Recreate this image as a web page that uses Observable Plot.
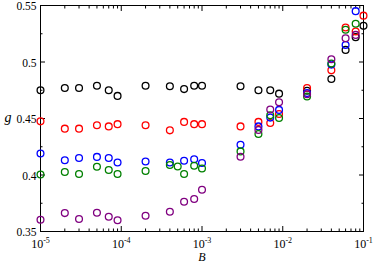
<!DOCTYPE html>
<html><head><meta charset="utf-8">
<script src="https://cdn.jsdelivr.net/npm/d3@7"></script>
<script src="https://cdn.jsdelivr.net/npm/@observablehq/plot@0.6"></script>
<style>body{margin:0;background:#fff}svg{display:block}</style>
</head><body><div id="chart"></div>
<script>
// B values (x)
const B20 = [1e-5,2e-5,3e-5,5e-5,7e-5,9e-5,2e-4,4e-4,6e-4,8e-4,1e-3,3e-3,5e-3,7e-3,9e-3,2e-2,4e-2,6e-2,8e-2,1e-1];
const B19 = [1e-5,2e-5,3e-5,5e-5,7e-5,9e-5,2e-4,4e-4,6e-4,8e-4,1e-3,3e-3,5e-3,7e-3,9e-3,2e-2,4e-2,6e-2,8e-2];
const Bgreen = [1e-5,2e-5,3e-5,5e-5,7e-5,9e-5,2e-4,4e-4,5e-4,6e-4,8e-4,1e-3,3e-3,5e-3,7e-3,9e-3,2e-2,4e-2,6e-2,8e-2];

// g values per series
const gBlack  = [0.475,0.477,0.477,0.479,0.475,0.470,0.479,0.4785,0.476,0.479,0.479,0.4785,0.475,0.475,0.472,0.4745,0.485,0.5107,0.522,0.532];
const gRed    = [0.4475,0.441,0.441,0.444,0.443,0.445,0.444,0.4395,0.447,0.445,0.445,0.443,0.447,0.446,0.454,0.477,0.4926,0.5305,0.527,0.541];
const gBlue   = [0.419,0.413,0.415,0.416,0.415,0.411,0.412,0.411,0.4126,0.414,0.4106,0.4267,0.443,0.4508,0.4576,0.4725,0.4977,0.515,0.545];
const gGreen  = [0.4005,0.4026,0.4009,0.4073,0.4044,0.4009,0.4035,0.4088,0.4075,0.4009,0.4082,0.4058,0.4209,0.4363,0.4528,0.4505,0.4695,0.4986,0.5285,0.5338];
const gPurple = [0.3604,0.3663,0.361,0.3666,0.363,0.360,0.3639,0.3675,0.3763,0.3787,0.387,0.4162,0.4399,0.458,0.4643,0.4714,0.5024,0.521,0.524];

const seriesNames  = ["black","red","blue","green","purple"];
const seriesColors = ["#000000","#ff0000","#0000ff","#1f9a1f","#6b1a5d"];

// ticks
const xTickExponents = [-5,-4,-3,-2,-1];
const xMinorMultipliers = [2,3,4,5,6,7,8,9];
const yTicks = [0.35,0.40,0.45,0.50,0.55];
const yMinorTicks = [0.375,0.425,0.475,0.525];

const xMajor = xTickExponents.map(e => Math.pow(10, e));
const xMinor = xTickExponents.slice(0, -1).flatMap(e => xMinorMultipliers.map(m => m * Math.pow(10, e)));

const table = [];
[[B20,gBlack,"black"],[B20,gRed,"red"],[B19,gBlue,"blue"],[Bgreen,gGreen,"green"],[B19,gPurple,"purple"]]
  .forEach(([bs, gs, s]) => bs.forEach((b, i) => table.push({B: b, g: gs[i], s})));

const font = "Liberation Serif";
const fs = 12;

const plot = Plot.plot({
  width: 374,
  height: 263,
  marginLeft: 40,
  marginRight: 11,
  marginTop: 5,
  marginBottom: 32,
  style: {fontFamily: font, fontSize: fs + "px", background: "#fff", overflow: "visible"},
  x: {type: "log", domain: [1e-5, 1e-1]},
  y: {domain: [0.35, 0.55]},
  color: {domain: seriesNames, range: seriesColors},
  marks: [
    // major and minor ticks, pointing inwards on all four sides
    Plot.axisX(xMajor, {anchor: "bottom", tickSize: -5, tickFormat: () => "", label: null}),
    Plot.axisX(xMinor, {anchor: "bottom", tickSize: -2.5, tickFormat: () => "", label: null}),
    Plot.axisX(xMajor, {anchor: "top", tickSize: -5, tickFormat: () => "", label: null}),
    Plot.axisX(xMinor, {anchor: "top", tickSize: -2.5, tickFormat: () => "", label: null}),
    Plot.axisY(yTicks, {anchor: "left", tickSize: -5, tickFormat: () => "", label: null}),
    Plot.axisY(yMinorTicks, {anchor: "left", tickSize: -2.5, tickFormat: () => "", label: null}),
    Plot.axisY(yTicks, {anchor: "right", tickSize: -5, tickFormat: () => "", label: null}),
    Plot.axisY(yMinorTicks, {anchor: "right", tickSize: -2.5, tickFormat: () => "", label: null}),
    // tick labels
    Plot.axisX(xMajor, {anchor: "bottom", tickSize: 0, tickPadding: 8, fontSize: fs, tickFormat: d => "10^" + Math.round(Math.log10(d)), label: null}),
    Plot.axisY(yTicks, {anchor: "left", tickSize: 0, tickPadding: 4, dy: 1, fontSize: 11.5, tickFormat: d => String(+d.toFixed(2)), label: null}),
    Plot.frame({stroke: "#000", strokeWidth: 1}),
    Plot.dot(table, {x: "B", y: "g", stroke: "s", r: 3.4, strokeWidth: 1.3, fill: "none"}),
    Plot.text(["B"], {frameAnchor: "bottom", dy: 29, fontStyle: "italic", fontSize: 12, fontFamily: font}),
    Plot.text(["g"], {frameAnchor: "left", dx: -36, dy: -1, fontStyle: "italic", fontSize: 14, fontFamily: font})
  ]
});

// superscript exponents in x tick labels
d3.select(plot).selectAll('g[aria-label="x-axis tick label"] text').each(function() {
  const t = d3.select(this);
  const s = t.text();
  if (!s.includes("^")) return;
  const [base, exp] = s.split("^");
  t.text(null);
  t.append("tspan").text(base);
  t.append("tspan").attr("dy", "-0.6em").attr("font-size", 8).text(exp);
});

document.getElementById("chart").appendChild(plot);
</script>
</body></html>
